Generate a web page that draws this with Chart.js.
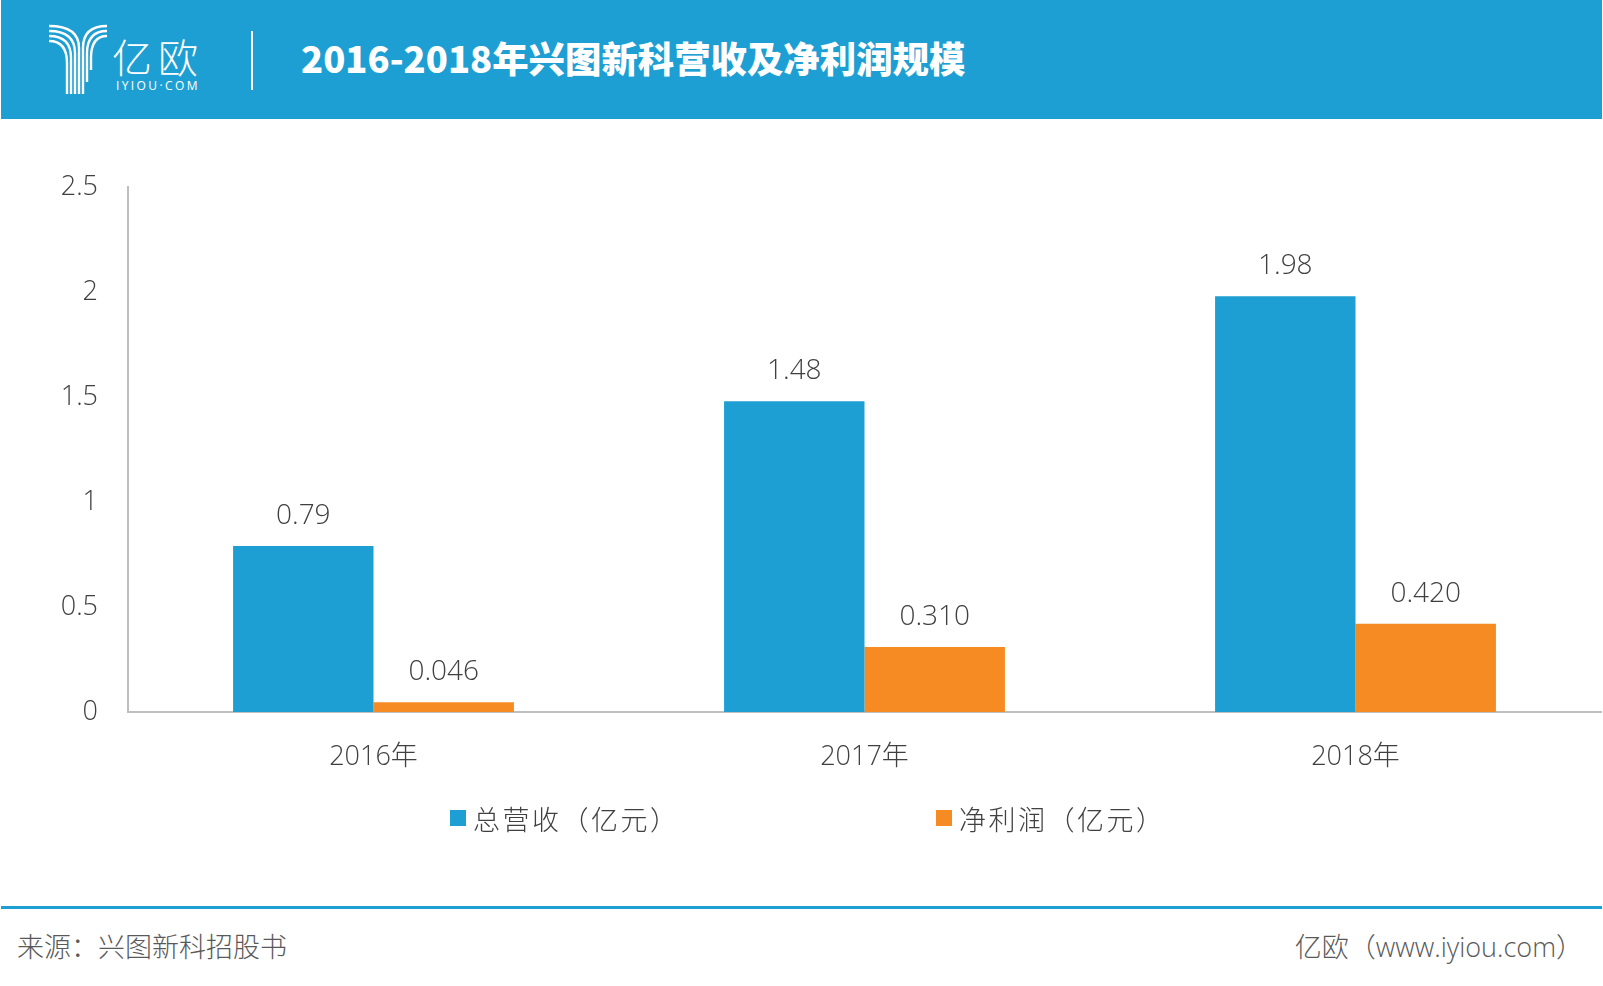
<!DOCTYPE html>
<html>
<head>
<meta charset="utf-8">
<title>2016-2018年兴图新科营收及净利润规模</title>
<script src="https://cdn.jsdelivr.net/npm/chart.js@4/dist/chart.umd.min.js"></script>
<style>
  html, body { margin: 0; padding: 0; background: #fff; }
  body {
    width: 1603px; height: 986px; position: relative; overflow: hidden;
    font-family: "Open Sans", "Noto Sans CJK SC", sans-serif; font-weight: 300;
  }
  .header { position: absolute; left: 1px; top: 0; width: 1601px; height: 119px; background: #1e9fd3; }
  .logo-icon { position: absolute; left: 48px; top: 24px; }
  .logo-cn { position: absolute; left: 111px; top: 31px; color: #fff; font: 300 40px "Noto Sans CJK SC", sans-serif; letter-spacing: 6px; line-height: 50px; }
  .logo-en { position: absolute; left: 115px; top: 77px; color: #fff; font: 400 12px "Open Sans", sans-serif; letter-spacing: 2.4px; }
  .sep { position: absolute; left: 250px; top: 31px; width: 2px; height: 59px; background: #fff; }
  .title { position: absolute; left: 300px; top: 34px; color: #fff; font: 900 36.4px "Noto Sans CJK SC", sans-serif; line-height: 46px; white-space: nowrap; }
  #wrap { position: absolute; left: 0; top: 122px; width: 1603px; height: 680px; }
  .legend { position: absolute; top: 800px; height: 36px; display: flex; align-items: center; color: #404040; font-size: 27px; letter-spacing: 2.5px; white-space: nowrap; }
  .legend i { display: inline-block; width: 16px; height: 16px; margin-right: 7px; }
  .rule { position: absolute; left: 1px; top: 906px; width: 1601px; height: 3px; background: #1e9fd3; }
  .foot { position: absolute; top: 929px; color: #595959; font-size: 27px; line-height: 36px; white-space: nowrap; }
</style>
</head>
<body>
<div class="header">
  <svg class="logo-icon" width="60" height="72" viewBox="0 0 60 72" fill="none" stroke="#fff" stroke-width="2.4"></svg>
  <div class="logo-cn">亿欧</div>
  <div class="logo-en">IYIOU·COM</div>
  <div class="sep"></div>
  <div class="title">2016-2018年兴图新科营收及净利润规模</div>
</div>
<div id="wrap"><canvas id="chart"></canvas></div>
<div id="legend"></div>
<div class="rule"></div>
<div class="foot" style="left:17px">来源：兴图新科招股书</div>
<div class="foot" style="right:20px">亿欧（www.iyiou.com）</div>
<script>
const categories = ['2016年', '2017年', '2018年'];
const revenue = [0.79, 1.48, 1.98];
const netProfit = [0.046, 0.310, 0.420];
const revenueLabels = ['0.79', '1.48', '1.98'];
const profitLabels = ['0.046', '0.310', '0.420'];
const yTickLabels = ['0', '0.5', '1', '1.5', '2', '2.5'];
const seriesNames = ['总营收（亿元）', '净利润（亿元）'];

const BLUE = '#1e9fd3';
const ORANGE = '#f68b23';
const TEXT = '#404040';
const FONT = '"Open Sans", "Noto Sans CJK SC", sans-serif';

// logo stripes
const drawLogo = () => {
  const svg = document.querySelector('.logo-icon');
  let d = '';
  for (let i = 0; i < 4; i++) {
    const sx = 30 - 4 * i, y0 = 2 + 5 * i;
    d += `M0 ${y0} Q${sx} ${y0} ${sx} ${y0 + 22} L${sx} 70 `;
  }
  for (let i = 0; i < 3; i++) {
    const sx = 34 + 4 * i, y0 = 2 + 5 * i;
    d += `M58 ${y0} Q${sx} ${y0} ${sx} ${y0 + 22} L${sx} ${70 - 12 * i} `;
  }
  svg.innerHTML = `<path d="${d}"/>`;
};
drawLogo();

// value labels above bars
const valueLabels = {
  id: 'valueLabels',
  afterDatasetsDraw(chart) {
    const { ctx } = chart;
    const texts = [revenueLabels, profitLabels];
    ctx.save();
    ctx.font = `300 28px ${FONT}`;
    ctx.fillStyle = TEXT;
    ctx.textAlign = 'center';
    ctx.textBaseline = 'middle';
    chart.data.datasets.forEach((ds, di) => {
      chart.getDatasetMeta(di).data.forEach((bar, i) => {
        ctx.fillText(texts[di][i], bar.x, bar.y - 30);
      });
    });
    ctx.restore();
  }
};

const initChart = () => {
  const ctx = document.getElementById('chart')?.getContext('2d');
  if (!ctx) return;

  const chart = new Chart(ctx, {
    type: 'bar',
    data: {
      labels: categories,
      datasets: [
        { label: seriesNames[0], data: revenue, backgroundColor: BLUE },
        { label: seriesNames[1], data: netProfit, backgroundColor: ORANGE }
      ]
    },
    options: {
      responsive: true,
      maintainAspectRatio: false,
      animation: false,
      layout: { padding: { top: 65, right: 2, left: 0, bottom: 0 } },
      datasets: { bar: { barPercentage: 1, categoryPercentage: 0.572 } },
      plugins: {
        legend: { display: false },
        tooltip: { enabled: false }
      },
      scales: {
        x: {
          grid: { display: false, drawTicks: false },
          border: { display: true, color: '#bfbfbf', width: 2 },
          ticks: { color: TEXT, padding: 29, font: { family: FONT, size: 27, weight: 300 } },
          afterFit: s => { s.height = 90; }
        },
        y: {
          min: 0,
          max: 2.5,
          grid: { display: false, drawTicks: false },
          border: { display: true, color: '#bfbfbf', width: 2 },
          ticks: {
            stepSize: 0.5,
            padding: 30,
            color: TEXT,
            font: { family: FONT, size: 27, weight: 300 },
            callback: (v, i) => yTickLabels[i]
          },
          afterFit: s => { s.width = 128; }
        }
      }
    },
    plugins: [valueLabels]
  });

  // legend built from the datasets
  const lg = document.getElementById('legend');
  const lefts = [450, 936];
  chart.data.datasets.forEach((ds, i) => {
    const item = document.createElement('div');
    item.className = 'legend';
    item.style.left = lefts[i] + 'px';
    item.innerHTML = `<i style="background:${ds.backgroundColor}"></i>${ds.label}`;
    lg.appendChild(item);
  });
};

initChart();
</script>
</body>
</html>
